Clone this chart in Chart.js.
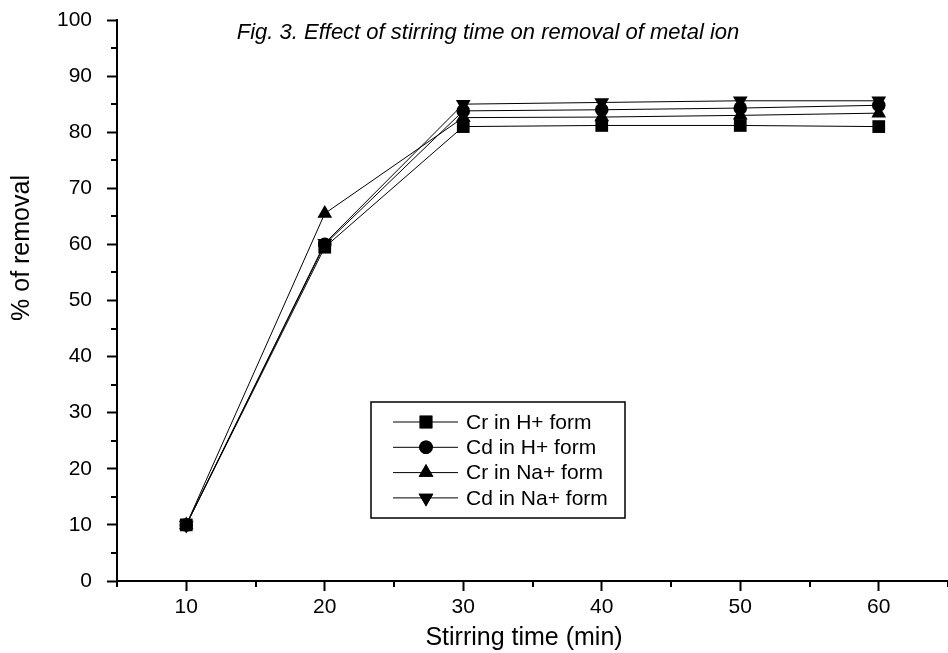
<!DOCTYPE html>
<html>
<head>
<meta charset="utf-8">
<script src="https://cdn.jsdelivr.net/npm/chart.js@4.4.0/dist/chart.umd.min.js"></script>
<style>
  html, body { margin: 0; padding: 0; background: #fff; }
  #wrap { width: 948px; height: 653px; }
</style>
</head>
<body>
<div id="wrap"><canvas id="chart" width="948" height="653"></canvas></div>
<script>
// data
const times = [10, 20, 30, 40, 50, 60]
const crH = [10, 59.5, 81, 81.2, 81.2, 81]
const cdH = [10, 60, 83.8, 84, 84.3, 84.8]
const crNa = [10, 65.5, 82.6, 82.7, 83, 83.4]
const cdNa = [10, 60.2, 85, 85.3, 85.6, 85.6]

const seriesNames = ['Cr in H+ form', 'Cd in H+ form', 'Cr in Na+ form', 'Cd in Na+ form']
const xTicks = [10, 20, 30, 40, 50, 60]
const xMinor = [5, 15, 25, 35, 45, 55, 65]
const yTicks = [0, 10, 20, 30, 40, 50, 60, 70, 80, 90, 100]
const yMinor = [5, 15, 25, 35, 45, 55, 65, 75, 85, 95]

const titleText = 'Fig. 3. Effect of stirring time on removal of metal ion'
const xTitle = 'Stirring time (min)'
const yTitle = '% of removal'
const FONT = "'Liberation Sans', Arial, Helvetica, sans-serif"

function makeSet(label, values, style, radius, rotation) {
  return {
    label: label,
    data: times.map((t, i) => ({ x: t, y: values[i] })),
    borderColor: '#000',
    backgroundColor: '#000',
    borderWidth: 1,
    pointStyle: style,
    pointRadius: radius,
    pointRotation: rotation,
    pointBorderWidth: 0,
    pointBackgroundColor: '#000',
    tension: 0,
    showLine: true
  }
}

const datasets = [
  makeSet(seriesNames[0], crH, 'rect', 9, 0),
  makeSet(seriesNames[1], cdH, 'circle', 6.8, 0),
  makeSet(seriesNames[2], crNa, 'triangle', 8.5, 0),
  makeSet(seriesNames[3], cdNa, 'triangle', 8.5, 180)
]

// minor ticks, titles and boxed legend
const extras = {
  id: 'extras',
  afterDraw(chart) {
    const ctx = chart.ctx
    const xs = chart.scales.x
    const ys = chart.scales.y
    const area = chart.chartArea
    ctx.save()
    ctx.strokeStyle = '#000'
    ctx.lineWidth = 2
    ctx.beginPath()
    xMinor.forEach(v => {
      const px = Math.round(xs.getPixelForValue(v))
      ctx.moveTo(px, area.bottom)
      ctx.lineTo(px, area.bottom + 6)
    })
    yMinor.forEach(v => {
      const py = Math.round(ys.getPixelForValue(v))
      ctx.moveTo(area.left, py)
      ctx.lineTo(area.left - 6, py)
    })
    ctx.stroke()

    ctx.fillStyle = '#000'
    ctx.textBaseline = 'middle'
    ctx.textAlign = 'center'

    // figure title
    ctx.font = 'italic 22px ' + FONT
    ctx.fillText(titleText, 488, 33)

    // axis titles
    ctx.font = '25px ' + FONT
    ctx.fillText(xTitle, 524, 638)
    ctx.save()
    ctx.translate(22, 248)
    ctx.rotate(-Math.PI / 2)
    ctx.fillText(yTitle, 0, 0)
    ctx.restore()

    // legend
    const bx = 371, by = 402, bw = 254, bh = 116
    ctx.lineWidth = 1.5
    ctx.strokeRect(bx, by, bw, bh)
    ctx.font = '21px ' + FONT
    ctx.textAlign = 'left'
    chart.data.datasets.forEach((ds, i) => {
      const ry = by + 20 + i * 25.3
      ctx.lineWidth = 1
      ctx.beginPath()
      ctx.moveTo(bx + 22, ry)
      ctx.lineTo(bx + 87, ry)
      ctx.stroke()
      Chart.helpers.drawPoint(ctx, {
        pointStyle: ds.pointStyle,
        radius: ds.pointRadius,
        rotation: ds.pointRotation,
        borderWidth: 0
      }, bx + 55, ry)
      ctx.fill()
      ctx.fillText(ds.label, bx + 95, ry + 1)
    })
    ctx.restore()
  }
}

function axisGrid() {
  return {
    display: true,
    drawOnChartArea: false,
    drawTicks: true,
    tickLength: 10,
    tickWidth: 2,
    tickColor: '#000'
  }
}

new Chart(document.getElementById('chart'), {
  type: 'scatter',
  data: { datasets: datasets },
  options: {
    responsive: false,
    animation: false,
    devicePixelRatio: 1,
    layout: { autoPadding: false, padding: { top: 20, right: 0, left: 0, bottom: 0 } },
    plugins: {
      legend: { display: false },
      tooltip: { enabled: false },
      title: { display: false }
    },
    scales: {
      x: {
        type: 'linear',
        min: 5,
        max: 65,
        afterBuildTicks: s => { s.ticks = xTicks.map(v => ({ value: v })) },
        afterFit: s => { s.height = 72; s.paddingLeft = 0; s.paddingRight = 0 },
        grid: axisGrid(),
        border: { display: true, color: '#000', width: 2 },
        ticks: { color: '#000', font: { family: FONT, size: 21 }, padding: 4, maxRotation: 0 }
      },
      y: {
        type: 'linear',
        min: 0,
        max: 100,
        afterBuildTicks: s => { s.ticks = yTicks.map(v => ({ value: v })) },
        afterFit: s => { s.width = 117; s.paddingTop = 0; s.paddingBottom = 0 },
        grid: axisGrid(),
        border: { display: true, color: '#000', width: 2 },
        ticks: { color: '#000', font: { family: FONT, size: 21 }, padding: 15 }
      }
    }
  },
  plugins: [extras]
})
</script>
</body>
</html>
